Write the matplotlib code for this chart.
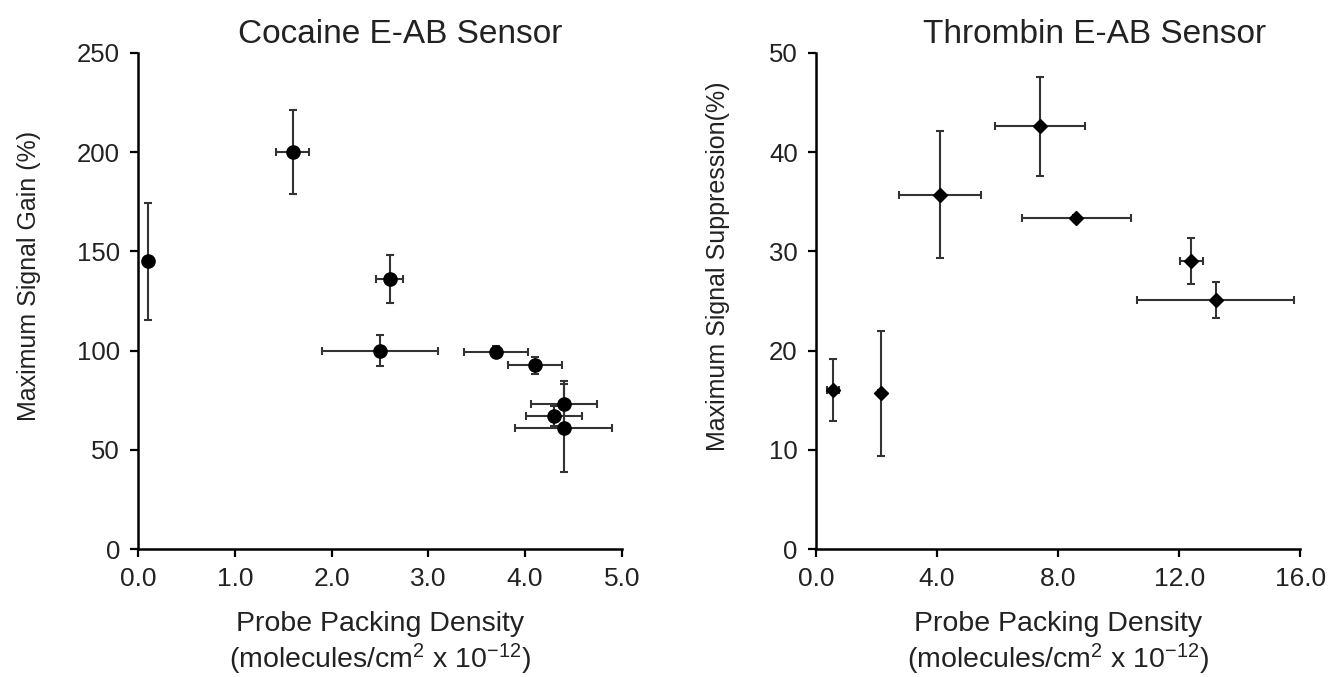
import matplotlib
matplotlib.use('Agg')
from matplotlib import pyplot as plt

plt.rcParams['font.family'] = ['Liberation Sans', 'DejaVu Sans']
plt.rcParams['mathtext.default'] = 'regular'

# cocaine sensor
coc_x = [0.1, 1.6, 2.6, 2.5, 3.7, 4.1, 4.4, 4.3, 4.4]
coc_y = [145, 200, 136, 100, 99.5, 92.5, 73, 67, 61]
coc_xerr = [0.0, 0.17, 0.14, 0.6, 0.33, 0.28, 0.34, 0.29, 0.5]
coc_yerr = [29.5, 21, 12, 8, 3, 4.5, 11.5, 5, 22]

# thrombin sensor
thr_x = [0.57, 2.14, 4.1, 7.4, 8.6, 12.4, 13.2]
thr_y = [16.0, 15.7, 35.7, 42.6, 33.4, 29.0, 25.1]
thr_xerr = [0.2, 0.1, 1.35, 1.48, 1.8, 0.38, 2.6]
thr_yerr = [3.1, 6.3, 6.4, 5.0, 0.3, 2.3, 1.8]

xlab = 'Probe Packing Density\n(molecules/cm$^2$ x 10$^{-12}$)'

fig = plt.figure(figsize=(13.31, 6.77), dpi=100)
ax1 = fig.add_axes([0.1037, 0.189, 0.3635, 0.733])
ax2 = fig.add_axes([0.613, 0.189, 0.364, 0.733])

ax1.errorbar(coc_x, coc_y, xerr=coc_xerr, yerr=coc_yerr, fmt='o', color='black',
             ms=9.5, ecolor='#333333', elinewidth=1.5, capsize=3, capthick=1.5)
ax2.errorbar(thr_x, thr_y, xerr=thr_xerr, yerr=thr_yerr, fmt='D', color='black',
             ms=7, ecolor='#333333', elinewidth=1.5, capsize=3, capthick=1.5)

ax1.set_xlim(0, 5)
ax1.set_ylim(0, 250)
ax1.set_xticks([0, 1, 2, 3, 4, 5])
ax1.set_xticklabels(['0.0', '1.0', '2.0', '3.0', '4.0', '5.0'])
ax1.set_yticks([0, 50, 100, 150, 200, 250])
ax1.text(0.541, 1.02, 'Cocaine E-AB Sensor', transform=ax1.transAxes,
         ha='center', va='baseline', fontsize=24, color='#222222')
ax1.set_ylabel('Maximum Signal Gain (%)', fontsize=18, color='#222222')
ax1.yaxis.set_label_coords(-0.2, 0.55)

ax2.set_xlim(0, 16)
ax2.set_ylim(0, 50)
ax2.set_xticks([0, 4, 8, 12, 16])
ax2.set_xticklabels(['0.0', '4.0', '8.0', '12.0', '16.0'])
ax2.set_yticks([0, 10, 20, 30, 40, 50])
ax2.text(0.576, 1.02, 'Thrombin E-AB Sensor', transform=ax2.transAxes,
         ha='center', va='baseline', fontsize=24, color='#222222')
ax2.set_ylabel('Maximum Signal Suppression(%)', fontsize=18, color='#222222')
ax2.yaxis.set_label_coords(-0.178, 0.57)

for ax in (ax1, ax2):
    ax.set_xlabel(xlab, fontsize=20.5, labelpad=14, linespacing=1.2, color='#222222')
    ax.spines['top'].set_visible(False)
    ax.spines['right'].set_visible(False)
    ax.spines['left'].set_linewidth(1.8)
    ax.spines['bottom'].set_linewidth(1.8)
    ax.tick_params(length=6, width=1.6, color='black', labelcolor='#222222', pad=7)
    ax.tick_params(axis='x', labelsize=19)
    ax.tick_params(axis='y', labelsize=18.5)

fig.savefig('out.png', dpi=100)
